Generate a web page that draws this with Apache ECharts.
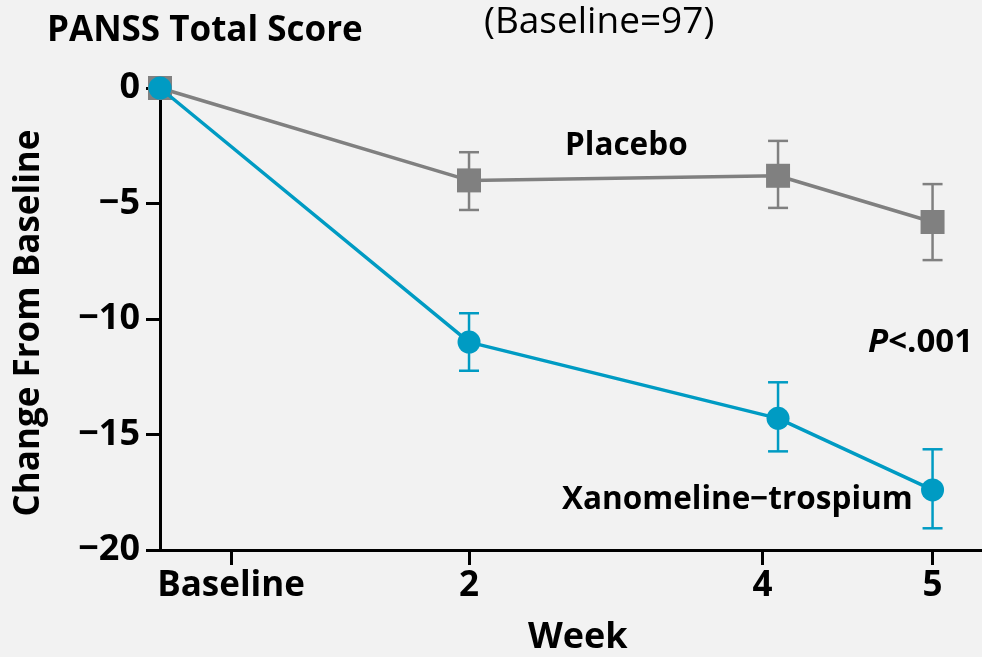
<!DOCTYPE html>
<html>
<head>
<meta charset="utf-8">
<script src="https://cdn.jsdelivr.net/npm/echarts@6/dist/echarts.min.js"></script>
<style>
html,body{margin:0;padding:0;background:#f2f2f2;}
#chart{width:982px;height:657px;}
</style>
</head>
<body>
<div id="chart"></div>
<script>
// ---- data ----
const weeks = [0, 2, 4, 5];
const tickLabels = ['Baseline', '2', '4', '5'];
const yTicks = [0, -5, -10, -15, -20];
const placeboMean = [0, -4.0, -3.8, -5.8];
const placeboLow  = [null, -5.28, -5.19, -7.45];
const placeboHigh = [null, -2.78, -2.29, -4.16];
const xanoMean = [0, -11.0, -14.3, -17.4];
const xanoLow  = [null, -12.24, -15.73, -19.06];
const xanoHigh = [null, -9.75, -12.74, -15.64];

const GREY = '#808080';
const TEAL = '#009bc3';
const FONT = '"Open Sans", sans-serif';

// tick label placement (week units on the value axis)
const tickPos = [0.46, 2, 3.9, 5];

function errData(lo, hi) {
  const out = [];
  weeks.forEach((w, i) => { if (lo[i] != null) out.push([w, lo[i], hi[i]]); });
  return out;
}
function errRender(color) {
  return function (params, api) {
    const x = api.value(0);
    const p1 = api.coord([x, api.value(1)]);
    const p2 = api.coord([x, api.value(2)]);
    const hw = 10;
    const style = { stroke: color, lineWidth: 2.5, fill: null };
    return {
      type: 'group',
      children: [
        { type: 'line', shape: { x1: p1[0], y1: p1[1], x2: p2[0], y2: p2[1] }, style: style },
        { type: 'line', shape: { x1: p1[0] - hw, y1: p1[1], x2: p1[0] + hw, y2: p1[1] }, style: style },
        { type: 'line', shape: { x1: p2[0] - hw, y1: p2[1], x2: p2[0] + hw, y2: p2[1] }, style: style }
      ]
    };
  };
}

const chart = echarts.init(document.getElementById('chart'));
chart.setOption({
  backgroundColor: '#f2f2f2',
  animation: false,
  grid: { left: 160, right: 0, top: 88, bottom: 107 },
  xAxis: {
    type: 'value', min: 0, max: 5.32,
    splitLine: { show: false },
    axisLine: { show: true, onZero: false, lineStyle: { color: '#000', width: 3 } },
    axisTick: { show: true, customValues: tickPos, length: 15, lineStyle: { color: '#000', width: 3 } },
    axisLabel: {
      customValues: tickPos, margin: 19,
      fontFamily: FONT, fontWeight: 'bold', fontSize: 35, color: '#000',
      formatter: function (v) {
        let best = 0;
        tickPos.forEach((t, i) => { if (Math.abs(t - v) < Math.abs(tickPos[best] - v)) best = i; });
        return tickLabels[best];
      }
    }
  },
  yAxis: {
    type: 'value', min: -20, max: 0, interval: 5,
    splitLine: { show: false },
    axisLine: { show: true, lineStyle: { color: '#000', width: 3 } },
    axisTick: { show: true, length: 14, lineStyle: { color: '#000', width: 3 } },
    axisLabel: {
      margin: 20,
      fontFamily: FONT, fontWeight: 'bold', fontSize: 36, color: '#000',
      formatter: v => (v < 0 ? '\u2212' + Math.abs(v) : String(v))
    }
  },
  series: [
    {
      type: 'custom', name: 'placeboErr', z: 2,
      renderItem: errRender(GREY), data: errData(placeboLow, placeboHigh)
    },
    {
      type: 'custom', name: 'xanoErr', z: 2,
      renderItem: errRender(TEAL), data: errData(xanoLow, xanoHigh)
    },
    {
      type: 'line', name: 'Placebo', z: 3,
      data: weeks.map((w, i) => [w, placeboMean[i]]),
      symbol: 'rect', symbolSize: 24,
      lineStyle: { color: GREY, width: 3.5 },
      itemStyle: { color: GREY }
    },
    {
      type: 'line', name: 'Xanomeline\u2212trospium', z: 4,
      data: weeks.map((w, i) => [w, xanoMean[i]]),
      symbol: 'circle', symbolSize: 23,
      lineStyle: { color: TEAL, width: 3.5 },
      itemStyle: { color: TEAL }
    }
  ],
  graphic: [
    { type: 'text', left: 47, top: 14, style: { text: 'PANSS Total Score', font: 'bold 35px ' + FONT, fill: '#000' } },
    { type: 'text', left: 484, top: 4, style: { text: '(Baseline=97)', font: '37px ' + FONT, fill: '#000' } },
    { type: 'text', left: 565, top: 130, style: { text: 'Placebo', font: 'bold 31.5px ' + FONT, fill: '#000' } },
    { type: 'text', left: 868, top: 326, style: { rich: { i: { font: 'italic bold 33px ' + FONT, fill: '#000' }, b: { font: 'bold 33px ' + FONT, fill: '#000' } }, text: '{i|P}{b|<.001}' } },
    { type: 'text', left: 562, top: 484, style: { text: 'Xanomeline\u2212trospium', font: 'bold 31.5px ' + FONT, fill: '#000' } },
    { type: 'text', left: 528, top: 620, style: { text: 'Week', font: 'bold 36px ' + FONT, fill: '#000' } },
    { type: 'text', x: 29, y: 323, rotation: Math.PI / 2, style: { text: 'Change From Baseline', font: 'bold 35px ' + FONT, fill: '#000', align: 'center', verticalAlign: 'middle' } }
  ]
});
</script>
</body>
</html>
